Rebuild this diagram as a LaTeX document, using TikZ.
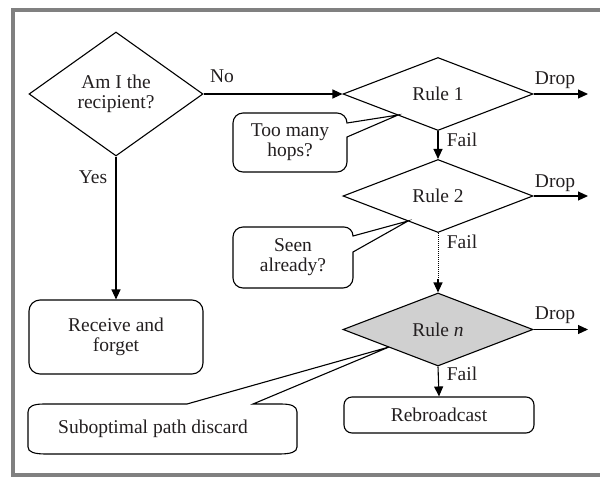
\documentclass[tikz,border=0pt]{standalone}
\usepackage{fontspec}
\setmainfont{Liberation Serif}
\usetikzlibrary{shapes.geometric,arrows.meta}
\definecolor{framegray}{RGB}{128,128,128}
\definecolor{rulefill}{RGB}{208,208,208}
\definecolor{inkcol}{RGB}{35,31,32}
\begin{document}
\begin{tikzpicture}[x=1pt,y=-1pt,
  font=\fontsize{19.5}{20}\selectfont, text=inkcol,
  line width=1.1pt, line join=miter,
  decision/.style={diamond, draw, inner sep=0pt, align=center},
  rulediam/.style={decision, minimum width=190pt, minimum height=73pt, shape aspect=2.6},
  roundbox/.style={rectangle, draw, rounded corners=11pt, align=center, inner sep=0pt},
  lbl/.style={inner sep=0pt, align=center},
  arr/.style={-{Triangle[length=10pt,width=9pt]}},
  calloutline/.style={draw, fill=white, line join=miter}
]
\clip (0,0) rectangle (600,477);
\useasboundingbox (0,0) rectangle (600,477);
% frame
\draw[framegray, line width=4pt] (605,10) -- (13,10) -- (13,475) -- (605,475);

% callouts (drawn first)
\draw[calloutline] (398,115) -- (347,137) -- (347,162)
  .. controls (347,167.5) and (342.5,172) .. (337,172) -- (243,172)
  .. controls (237.5,172) and (233,167.5) .. (233,162) -- (233,123)
  .. controls (233,117.5) and (237.5,113) .. (243,113) -- (337,113)
  .. controls (342.5,113) and (347,117.5) .. (347,123) -- cycle;
\draw[calloutline] (408,221) -- (353,252) -- (353,278)
  .. controls (353,283.5) and (348.5,288) .. (343,288) -- (243,288)
  .. controls (237.5,288) and (233,283.5) .. (233,278) -- (233,237)
  .. controls (233,231.5) and (237.5,227) .. (243,227) -- (344,227)
  .. controls (349,227) and (353,231) .. (353,236) -- cycle;
\draw[calloutline] (389,347) -- (253,404) -- (281,404)
  .. controls (291,404) and (297,406) .. (297,412) -- (297,447)
  .. controls (297,452) and (291,454) .. (279,454) -- (46,454)
  .. controls (34,454) and (28,452) .. (28,447) -- (28,412)
  .. controls (28,406) and (34,404) .. (44,404) -- (187,404) -- cycle;
\node[lbl] (c1) at (290,142) {Too many\\hops?};
\node[lbl] (c2) at (293,257) {Seen\\already?};
\node[lbl] (c3) at (153,429) {Suboptimal path discard};

% main nodes
\node[decision, minimum width=174pt, minimum height=124pt, shape aspect=1.4] (d1) at (116,94) {Am I the\\recipient?};
\node[rulediam] (r1) at (438,94) {Rule 1};
\node[rulediam] (r2) at (438,196) {Rule 2};
\node[rulediam, fill=rulefill] (rn) at (438,329.5) {Rule \textit{n}};
\node[roundbox, minimum width=174pt, minimum height=74pt] (rf) at (116,337) {Receive and\\forget};
\node[roundbox, rounded corners=8pt, minimum width=190pt, minimum height=36pt] (rb) at (439,415) {Rebroadcast};

% coordinates
\coordinate (drop1) at (588,94);
\coordinate (drop2) at (588,196);
\coordinate (dropn) at (588,329.5);
\coordinate (dotend) at (438,279);

% connectors
\draw[arr] (d1.east) -- (r1.west);
\draw[arr] (d1.south) -- (rf.north);
\draw[arr] (r1.east) -- (drop1);
\draw[arr] (r2.east) -- (drop2);
\draw[arr] (rn.east) -- (dropn);
\draw[arr] (r1.south) -- (r2.north);
\draw[line width=0.9pt, dash pattern=on 1pt off 1pt] (r2.south) -- (dotend);
\draw[arr] (dotend) -- (rn.north);
\draw[arr] (rn.south) -- (rb.north);

% labels
\node[lbl] (lno) at (222,76) {No};
\node[lbl] (lyes) at (93,177) {Yes};
\node[lbl] (ldrop1) at (555,80) {Drop};
\node[lbl] (ldrop2) at (555,183) {Drop};
\node[lbl] (ldropn) at (555,315) {Drop};
\node[lbl] (lfail1) at (462,140) {Fail};
\node[lbl] (lfail2) at (462,242) {Fail};
\node[lbl] (lfailn) at (462,374) {Fail};
\end{tikzpicture}
\end{document}
